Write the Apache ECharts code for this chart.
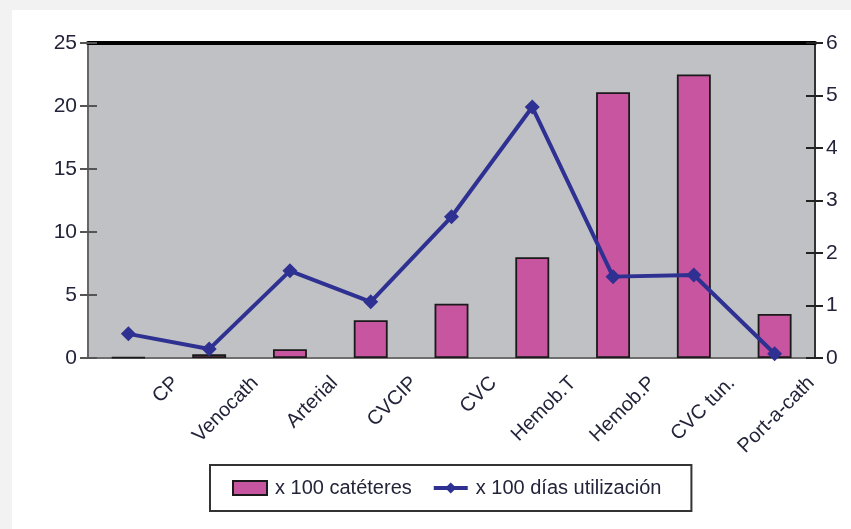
<!DOCTYPE html>
<html>
<head>
<meta charset="utf-8">
<script src="https://cdn.jsdelivr.net/npm/echarts@6/dist/echarts.min.js"></script>
<style>
body{margin:0;background:#f2f2f2;}
#main{position:absolute;left:12px;top:10px;width:839px;height:519px;background:#fff;}
</style>
</head>
<body>
<div id="main"></div>
<script>
var categories = ['CP', 'Venocath', 'Arterial', 'CVCIP', 'CVC', 'Hemob.T', 'Hemob.P', 'CVC tun.', 'Port-a-cath'];
var cateteres = [0.05, 0.3, 0.7, 3.0, 4.3, 8.0, 21.1, 22.5, 3.5];   // x 100 catéteres (eje izq.)
var diasUso = [0.46, 0.17, 1.66, 1.07, 2.69, 4.78, 1.55, 1.58, 0.08]; // x 100 días (eje der.)
var leftTicks = [0, 25, 5];
var rightTicks = [0, 6, 1];

var font = "'Liberation Sans', Arial, sans-serif";
var txt = '#23233a';

var myChart = echarts.init(document.getElementById('main'));

function yAx(grid, pos, t, inner, tickColor, lineColor) {
    return {
        type: 'value', gridIndex: grid, position: pos,
        min: t[0], max: t[1], interval: t[2],
        axisLine: {show: true, lineStyle: {color: lineColor, width: 2}},
        axisTick: {show: true, inside: inner, length: inner ? 9 : 8, lineStyle: {color: tickColor, width: 2}},
        axisLabel: {show: !inner, margin: 11, fontSize: 21, color: txt, fontFamily: font},
        splitLine: {show: false}
    };
}

option = {
    animation: false,
    grid: [
        {left: 76, top: 33, width: 727, bottom: 171, show: true, backgroundColor: '#c0c1c4', borderColor: '#222', borderWidth: 2},
        // only used to place the rotated labels a little to the right, like the original
        {left: 124, top: 33, width: 727, bottom: 171, show: false},
        // same box as grid 0, carries the inner half of the ticks
        {left: 76, top: 33, width: 727, bottom: 171, show: false}
    ],
    legend: {
        left: 198, top: 455,
        padding: [13, 30, 13, 22],
        itemGap: 20,
        itemWidth: 34, itemHeight: 14,
        borderColor: '#333', borderWidth: 2,
        backgroundColor: '#fff',
        textStyle: {fontSize: 20, color: txt, fontFamily: font, padding: [0, 0, 0, 3]},
        data: [
            {name: 'x 100 catéteres', icon: 'rect'},
            {name: 'x 100 días utilización', lineStyle: {width: 4}}
        ]
    },
    xAxis: [{
        type: 'category', gridIndex: 0, data: categories, position: 'bottom',
        axisLine: {lineStyle: {color: '#6e6e6e', width: 2}},
        axisTick: {length: 5, lineStyle: {color: '#333', width: 2}},
        axisLabel: {show: false}
    }, {
        type: 'category', gridIndex: 0, data: categories, position: 'top',
        axisLine: {show: true, onZero: false, lineStyle: {color: '#000', width: 4}},
        axisTick: {show: false},
        axisLabel: {show: false}
    }, {
        type: 'category', gridIndex: 1, data: categories, position: 'bottom',
        axisLine: {show: false},
        axisTick: {show: false},
        axisLabel: {rotate: 45, margin: 22, fontSize: 20, color: txt, fontFamily: font, interval: 0}
    }, {
        type: 'category', gridIndex: 2, data: categories, position: 'bottom',
        axisLine: {show: true, lineStyle: {color: '#6e6e6e', width: 2}},
        axisTick: {inside: true, length: 6, lineStyle: {color: '#333', width: 2}},
        axisLabel: {show: false}
    }],
    yAxis: [
        yAx(0, 'left', leftTicks, false, '#555', '#666'),
        yAx(0, 'right', rightTicks, false, '#222', '#333'),
        {type: 'value', gridIndex: 1, show: false},
        yAx(2, 'left', leftTicks, true, '#555', '#666'),
        yAx(2, 'right', rightTicks, true, '#222', '#333')
    ],
    series: [{
        name: 'x 100 catéteres',
        type: 'bar',
        xAxisIndex: 0, yAxisIndex: 0,
        barWidth: '42%',
        itemStyle: {color: '#c8559f', borderColor: '#1a1a1a', borderWidth: 1.8},
        data: cateteres
    }, {
        name: 'x 100 días utilización',
        type: 'line',
        xAxisIndex: 0, yAxisIndex: 1,
        symbol: 'diamond', symbolSize: 15,
        lineStyle: {color: '#2e3192', width: 4},
        itemStyle: {color: '#2e3192'},
        data: diasUso
    }]
};
myChart.setOption(option);
window.addEventListener("resize", function () {
    myChart.resize();
});
</script>
</body>
</html>
